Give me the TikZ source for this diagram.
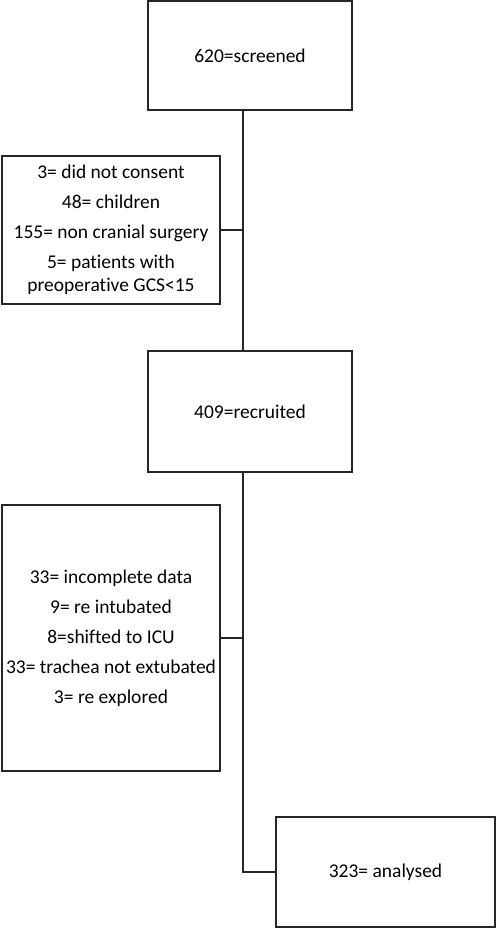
\documentclass[tikz,border=0pt]{standalone}
\usepackage{fontspec}
\setmainfont{Carlito}[Ligatures=NoCommon]
\begin{document}
\begin{tikzpicture}[x=1pt,y=-1pt,
    box/.style={draw=black!85,line width=1.4pt,align=center,inner sep=0pt,
        font=\fontsize{19.5}{23}\selectfont},
    link/.style={draw=black!85,line width=1.4pt}]
    % Bidang gambar
    \useasboundingbox (0,0) rectangle (496,928);

    % Kotak-kotak utama
    \node[box,minimum width=204,minimum height=109] (scr) at (250,55.5) {620=screened};
    \node[box,minimum width=204,minimum height=121] (rec) at (250,411.5) {409=recruited};
    \node[box,minimum width=219,minimum height=110] (ana) at (385.5,872) {323= analysed};

    % Kotak-kotak pengecualian
    \node[box,minimum width=218,minimum height=148] (exc1) at (111,230)
        {3= did not consent\\[7pt] 48= children\\[7pt] 155= non cranial surgery\\[7pt]
         5= patients with\\ preoperative GCS<15};
    \node[box,minimum width=218,minimum height=266] (exc2) at (111,638)
        {33= incomplete data\\[7pt] 9= re intubated\\[7pt] 8=shifted to ICU\\[7pt]
         33= trachea not extubated\\[7pt] 3= re explored};

    % Garis penghubung
    \coordinate (spine) at (243,0);
    \draw[link] (scr.south -| spine) -- (rec.north -| spine);
    \draw[link] (exc1.east) -- (exc1.east -| spine);
    \draw[link] (rec.south -| spine) |- (ana.west);
    \draw[link] (exc2.east) -- (exc2.east -| spine);

\end{tikzpicture}
\end{document}
